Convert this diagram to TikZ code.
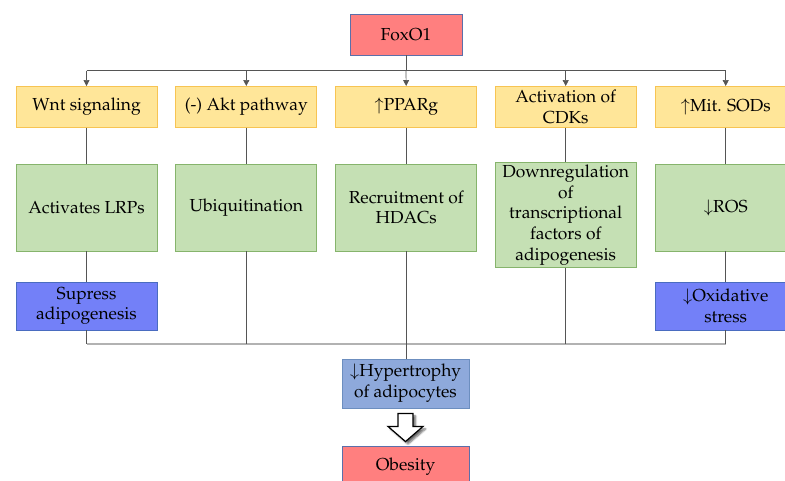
\documentclass[tikz,border=0pt]{standalone}
\usepackage[T1]{fontenc}
\usepackage{mathpazo}
\usetikzlibrary{arrows.meta,shadows.blur}
\definecolor{redfill}{HTML}{FF7F7F}
\definecolor{redline}{HTML}{5B6FAA}
\definecolor{yelfill}{HTML}{FFE699}
\definecolor{yelline}{HTML}{F7C453}
\definecolor{grnfill}{HTML}{C5E0B4}
\definecolor{grnline}{HTML}{86B46C}
\definecolor{blufill}{HTML}{7380F8}
\definecolor{bluline}{HTML}{4A6CC0}
\definecolor{hypfill}{HTML}{8EA9DB}
\definecolor{hypline}{HTML}{6C8EBF}
\definecolor{conn}{HTML}{555555}
\tikzset{
  box/.style={draw, line width=0.9pt, inner sep=2pt, align=center, font=\fontsize{17.4}{20.7}\selectfont, text=black},
  redbox/.style={box, fill=redfill, draw=redline, minimum width=112pt, minimum height=41pt},
  yelbox/.style={box, fill=yelfill, draw=yelline, minimum width=141pt, minimum height=41pt},
  grnbox/.style={box, fill=grnfill, draw=grnline, minimum width=141pt, minimum height=87pt},
  blubox/.style={box, fill=blufill, draw=bluline, minimum width=141pt, minimum height=48pt},
  hypbox/.style={box, fill=hypfill, draw=hypline, minimum width=127pt, minimum height=49pt},
  conline/.style={draw=conn, line width=0.7pt},
  arr/.style={conline, -{Triangle[length=6pt,width=6pt]}},
  busline/.style={draw=black!30, line width=1.3pt},
}
\begin{document}
\begin{tikzpicture}[x=1pt,y=-1pt]
\useasboundingbox (0,0) rectangle (785,481);
% boxes
\node[redbox] (fox) at (406,34.5) {FoxO1};
\node[yelbox] (y1) at (86.5,107) {Wnt signaling};
\node[yelbox] (y2) at (246.3,107) {(-) Akt pathway};
\node[yelbox] (y3) at (406.2,107) {$\uparrow$PPARg};
\node[yelbox] (y4) at (565.7,107) {Activation of\\CDKs};
\node[yelbox] (y5) at (725.7,107) {$\uparrow$Mit. SODs};
\node[grnbox] (g1) at (86.5,207.5) {Activates LRPs};
\node[grnbox] (g2) at (246.3,207.5) {Ubiquitination};
\node[grnbox] (g3) at (406.2,207.5) {Recruitment of\\HDACs};
\node[grnbox, minimum height=102pt] (g4) at (565.7,215) {Downregulation\\of\\transcriptional\\factors of\\adipogenesis};
\node[grnbox] (g5) at (725.7,207.5) {$\downarrow$ROS};
\node[blubox] (b1) at (86.5,306) {Supress\\adipogenesis};
\node[blubox] (b5) at (725.7,306) {$\downarrow$Oxidative\\stress};
\node[hypbox] (hyp) at (405.5,383.5) {$\downarrow$Hypertrophy\\of adipocytes};
\node[redbox, minimum width=127pt] (obe) at (405.5,466.5) {Obesity};
% bus coordinates
\coordinate (top) at (406,70.7);
\coordinate (bot) at (406,344);
% top connectors
\draw[conline] (fox.south) -- (top);
\draw[conline] (y1.north |- top) -- (y5.north |- top);
\draw[arr] (y1.north |- top) -- (y1.north);
\draw[arr] (y2.north |- top) -- (y2.north);
\draw[arr] (top) -- (y3.north);
\draw[arr] (y4.north |- top) -- (y4.north);
\draw[arr] (y5.north |- top) -- (y5.north);
% middle connectors
\foreach \i in {1,...,5} {\draw[conline] (y\i.south) -- (g\i.north);}
\draw[conline] (g1.south) -- (b1.north);
\draw[conline] (g5.south) -- (b5.north);
% bottom bus
\draw[busline] (b1.south |- bot) -- (b5.south |- bot);
\draw[conline] (b1.south) -- (b1.south |- bot);
\draw[conline] (g2.south) -- (g2.south |- bot);
\draw[conline] (g4.south) -- (g4.south |- bot);
\draw[conline] (b5.south) -- (b5.south |- bot);
\draw[conline] (g3.south) -- (hyp.north -| g3.south);
% block arrow
\draw[fill=white, draw=black, line width=1.2pt, line join=miter,
  blur shadow={shadow xshift=2.5pt, shadow yshift=-2.5pt, shadow blur steps=6, shadow opacity=60}]
  ([xshift=-7.5pt,yshift=-5pt]hyp.south) -- ([xshift=7.5pt,yshift=-5pt]hyp.south)
  -- ([xshift=7.5pt,yshift=-18pt]hyp.south) -- ([xshift=17.5pt,yshift=-18pt]hyp.south)
  -- ([yshift=4pt]obe.north) -- ([xshift=-17.5pt,yshift=-18pt]hyp.south)
  -- ([xshift=-7.5pt,yshift=-18pt]hyp.south) -- cycle;
\end{tikzpicture}
\end{document}
